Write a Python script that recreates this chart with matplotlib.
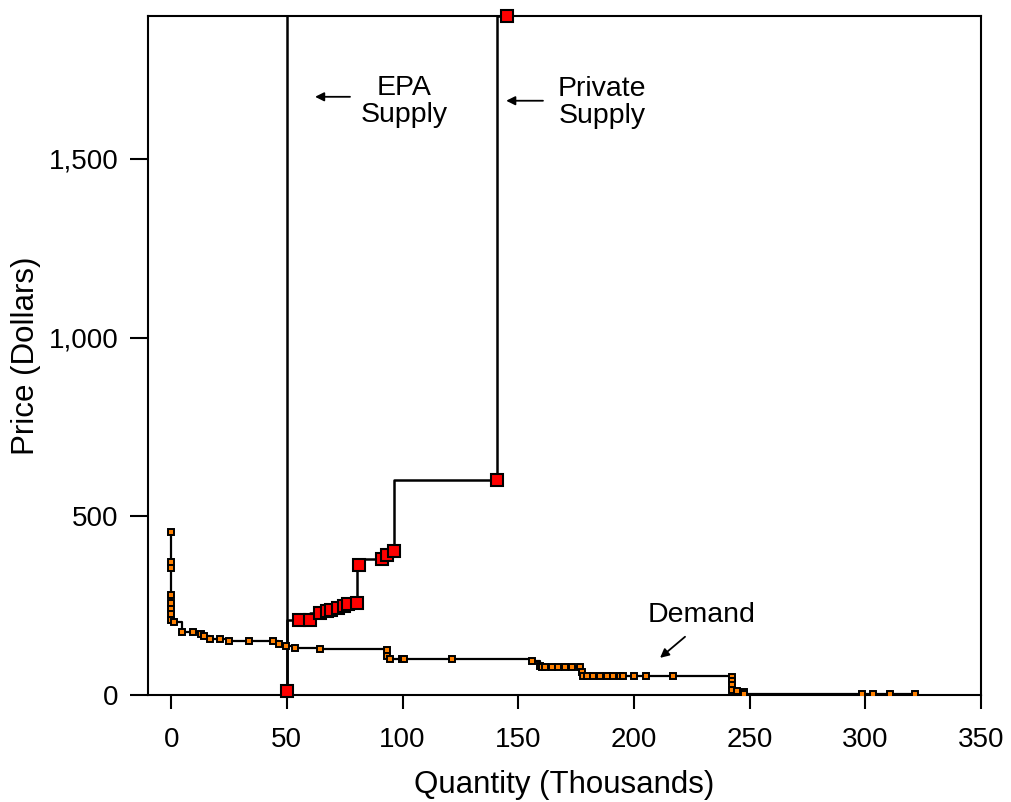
import matplotlib
matplotlib.use("Agg")
import matplotlib.pyplot as plt

plt.rcParams['font.family'] = ['Liberation Sans', 'DejaVu Sans']

# demand curve (quantity in thousands, price in dollars)
demand_q = [0, 0, 0, 0, 0, 0, 0, 0, 1.3, 4.5, 9.6, 13, 14.4, 16.8, 21.2, 24.8,
            33.8, 43.9, 46.4, 49.7, 53.6, 64.4, 93.2, 93.2, 94.6, 99.7, 100.7,
            121.3, 155.9, 159.5, 160.2, 161.6, 164.6, 167.2, 170.2, 173.2, 176.7,
            177.4, 178, 179.6, 182.5, 185.4, 188.3, 191.1, 194, 195.5, 200.2,
            205.3, 217, 242.3, 242.3, 242.3, 242.3, 244.5, 247.6, 247.6,
            298.5, 303.5, 310.7, 321.5]
demand_p = [455, 372, 355, 281, 258, 240, 227, 210, 205, 177, 177, 170, 164, 157,
            157, 152, 152, 152, 143, 136, 131, 128, 126, 108, 101, 101, 101,
            100, 94, 81, 77, 77, 77, 77, 77, 77, 77,
            63, 53, 53, 53, 53, 53, 53, 53, 53, 53,
            53, 53, 50, 40, 28, 14, 10, 9, 3,
            3, 3, 3, 3]

# private supply curve
supply_q = [50, 55.3, 60.1, 64.4, 67.3, 69, 71.9, 74.5, 76.6, 80.2, 81.1,
            91.3, 93.5, 96.4, 141, 145.2]
supply_p = [10, 210, 210, 229, 234, 239, 243, 250, 254, 257, 363,
            381, 392, 404, 603, 1900]

epa_q = 50

x_ticks = [0, 50, 100, 150, 200, 250, 300, 350]
y_ticks = [0, 500, 1000, 1500]
y_tick_labels = ['0', '500', '1,000', '1,500']

fig = plt.figure(figsize=(10.11, 8.02), dpi=100)
ax = fig.add_axes([0.1464, 0.1334, 0.8239, 0.8466])

ax.axvline(epa_q, color='black', lw=1.8, zorder=2)

ax.plot(demand_q, demand_p, drawstyle='steps-post', color='black', lw=1.6,
        zorder=3)
ax.plot(demand_q, demand_p, 's', color='#ff8000', mec='black', mew=1.4,
        ms=5, zorder=4)

ax.plot(supply_q, supply_p, drawstyle='steps-pre', color='black', lw=1.8,
        zorder=3, clip_on=False)
ax.plot(supply_q, supply_p, 's', color='#ff0000', mec='black', mew=1.5,
        ms=8.5, zorder=5, clip_on=False)

ax.set_xlim(-10, 350)
ax.set_ylim(0, 1900)
ax.set_xticks(x_ticks)
ax.set_yticks(y_ticks)
ax.set_yticklabels(y_tick_labels)
ax.tick_params(axis='x', direction='out', length=10, width=1.5, pad=13,
               labelsize=20)
ax.tick_params(axis='y', direction='out', length=13, width=1.5, pad=8,
               labelsize=20)
for s in ax.spines.values():
    s.set_linewidth(1.5)

ax.set_xlabel('Quantity (Thousands)', fontsize=22.5, labelpad=12)
ax.set_ylabel('Price (Dollars)', fontsize=22.5, labelpad=6)

arrow = dict(arrowstyle='-|>', color='black', lw=1.3, mutation_scale=13,
             shrinkA=0, shrinkB=0)
ax.annotate('', xy=(62.2, 1674), xytext=(77.3, 1674), arrowprops=arrow)
ax.text(100.7, 1662, 'EPA\nSupply', fontsize=20.5, ha='center', va='center',
        linespacing=1.05)
ax.annotate('', xy=(144.8, 1663), xytext=(160.7, 1663), arrowprops=arrow)
ax.text(186.2, 1657, 'Private\nSupply', fontsize=20.5, ha='center',
        va='center', linespacing=1.05)
ax.annotate('', xy=(211.3, 104), xytext=(222.1, 163), arrowprops=arrow)
ax.text(229.4, 224, 'Demand', fontsize=20.5, ha='center', va='center')

fig.savefig('out.png', dpi=100)
